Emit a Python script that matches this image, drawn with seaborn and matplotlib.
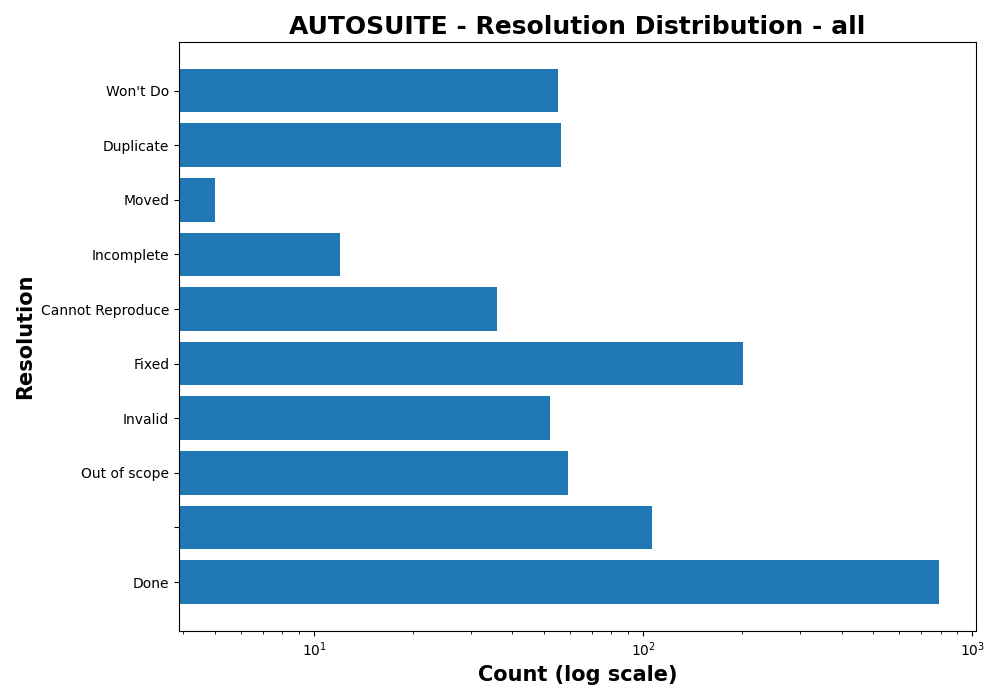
import matplotlib
matplotlib.use('Agg')
import matplotlib.pyplot as plt
import seaborn as sns
import pandas as pd

# top to bottom, as shown in the chart
resolutions = ["Won't Do", 'Duplicate', 'Moved', 'Incomplete', 'Cannot Reproduce',
               'Fixed', 'Invalid', 'Out of scope', '', 'Done']
counts = [55, 56, 5, 12, 36, 201, 52, 59, 106, 790]

df = pd.DataFrame({'resolution': resolutions, 'count': counts})

fig, ax = plt.subplots(figsize=(10, 7), dpi=100)
sns.barplot(data=df, x='count', y='resolution', order=resolutions, orient='h',
            color='#1f77b4', saturation=1, width=0.8, ax=ax)
ax.set_xscale('log', nonpositive='clip')

# matplotlib-like margins around the bars
n = len(resolutions)
ax.set_ylim(n - 1 + 0.4 + 0.49, -0.4 - 0.49)
ax.set_xlim(3.88, 1025)
for s in ax.spines.values():
    s.set_visible(True)
    s.set_color('black')

ax.set_title('AUTOSUITE - Resolution Distribution - all', fontsize=18, fontweight='bold')
ax.set_xlabel('Count (log scale)', fontsize=15, fontweight='bold')
ax.set_ylabel('Resolution', fontsize=15, fontweight='bold')

plt.subplots_adjust(left=0.179, right=0.976, top=0.94, bottom=0.099)
plt.savefig('out.png', dpi=100)
